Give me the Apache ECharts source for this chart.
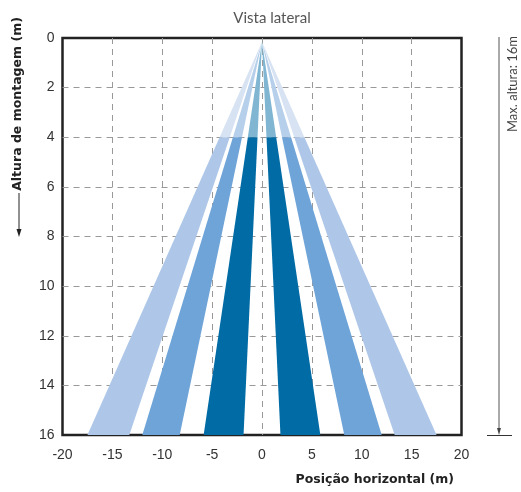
<!DOCTYPE html>
<html><head><meta charset="utf-8">
<script src="https://cdn.jsdelivr.net/npm/echarts@6/dist/echarts.min.js"></script>
<style>html,body{margin:0;padding:0;background:#fff}#c{width:521px;height:492px}</style>
</head><body><div id="c"></div>
<script>
// Data
var xTicks = [-20, -15, -10, -5, 0, 5, 10, 15, 20];
var yTicks = [0, 2, 4, 6, 8, 10, 12, 14, 16];
var apex = [0, 0.15];          // beam origin (x, height)
var splitHeight = 4;           // height where beams change shade
var maxHeight = 16;            // max mounting height
var bandInner = [1.85, 8.25, 13.3];  // inner edge of each beam at 16 m
var bandOuter = [5.85, 12.0, 17.5];  // outer edge of each beam at 16 m
var sides = [-1, 1];

var topColors = ['#80b6d2', '#b6cfea', '#d7e3f3'];
var bottomColors = ['#006ba5', '#6fa4d8', '#aec7e8'];

var items = [];
sides.forEach(function (s) {
  bandInner.forEach(function (xi, b) {
    items.push({ value: [s * xi, s * bandOuter[b], 0, b] });
    items.push({ value: [s * xi, s * bandOuter[b], 1, b] });
  });
});

function edgeAt(x16, h) {
  var t = (h - apex[1]) / (maxHeight - apex[1]);
  return apex[0] + (x16 - apex[0]) * t;
}

var chart = echarts.init(document.getElementById('c'), null, { renderer: 'canvas' });
chart.setOption({
  animation: false,
  title: {
    text: 'Vista lateral', left: 267, top: 6, textAlign: 'center',
    textStyle: { fontSize: 15, fontWeight: 'normal', color: '#555', fontFamily: 'Lato' }
  },
  grid: { left: 62.5, right: 59.5, top: 38, bottom: 57, show: true, borderColor: '#222', borderWidth: 2.5, backgroundColor: 'transparent' },
  xAxis: {
    type: 'value', min: -20, max: 20, interval: 5, position: 'bottom',
    axisLine: { show: false, onZero: false }, axisTick: { show: false },
    axisLabel: { fontSize: 14, color: '#333', fontFamily: 'Liberation Sans', margin: 13,
      formatter: function (v) { return xTicks.indexOf(v) >= 0 ? String(v) : ''; } },
    splitLine: { show: true, showMinLine: false, showMaxLine: false, lineStyle: { color: '#999', type: [6, 5], width: 1 } }
  },
  yAxis: {
    type: 'value', min: 0, max: 16, interval: 2, inverse: true,
    axisLine: { show: false, onZero: false }, axisTick: { show: false },
    axisLabel: { fontSize: 14, color: '#333', fontFamily: 'Liberation Sans', margin: 8,
      formatter: function (v) { return yTicks.indexOf(v) >= 0 ? String(v) : ''; } },
    splitLine: { show: true, showMinLine: false, showMaxLine: false, lineStyle: { color: '#999', type: [6, 5], width: 1 } }
  },
  graphic: [
    { type: 'text', x: 454, y: 480,
      style: { text: 'Posição horizontal (m)', fill: '#222', font: 'bold 12.5px "DejaVu Sans"', textAlign: 'right', textVerticalAlign: 'middle' } },
    { type: 'text', x: 18, y: 104, rotation: Math.PI / 2,
      style: { text: 'Altura de montagem (m)', fill: '#222', font: 'bold 12.5px "DejaVu Sans"', textAlign: 'center', textVerticalAlign: 'middle' } },
    { type: 'line', shape: { x1: 19, y1: 193, x2: 19, y2: 232 }, style: { stroke: '#222', lineWidth: 1 } },
    { type: 'polygon', shape: { points: [[16.5, 229], [21.5, 229], [19, 237]] }, style: { fill: '#222' } },
    { type: 'text', x: 513, y: 84, rotation: Math.PI / 2,
      style: { text: 'Max. altura: 16m', fill: '#444', font: '13px Lato', textAlign: 'center', textVerticalAlign: 'middle' } },
    { type: 'line', shape: { x1: 499, y1: 37, x2: 499, y2: 431 }, style: { stroke: '#555', lineWidth: 1 } },
    { type: 'polygon', shape: { points: [[497, 428], [501, 428], [499, 435]] }, style: { fill: '#444' } },
    { type: 'line', shape: { x1: 487, y1: 435.5, x2: 512, y2: 435.5 }, style: { stroke: '#333', lineWidth: 1 } }
  ],
  series: [{
    type: 'custom',
    clip: true,
    data: items,
    renderItem: function (params, api) {
      var xi = api.value(0), xo = api.value(1), seg = api.value(2), b = api.value(3);
      var pts;
      if (seg === 0) {
        pts = [api.coord(apex), api.coord([edgeAt(xi, splitHeight), splitHeight]), api.coord([edgeAt(xo, splitHeight), splitHeight])];
      } else {
        pts = [api.coord([edgeAt(xi, splitHeight), splitHeight]), api.coord([edgeAt(xo, splitHeight), splitHeight]),
               api.coord([xo, maxHeight]), api.coord([xi, maxHeight])];
      }
      return { type: 'polygon', shape: { points: pts },
        style: { fill: seg === 0 ? topColors[b] : bottomColors[b] } };
    },
    z: 1
  }]
});
</script></body></html>
